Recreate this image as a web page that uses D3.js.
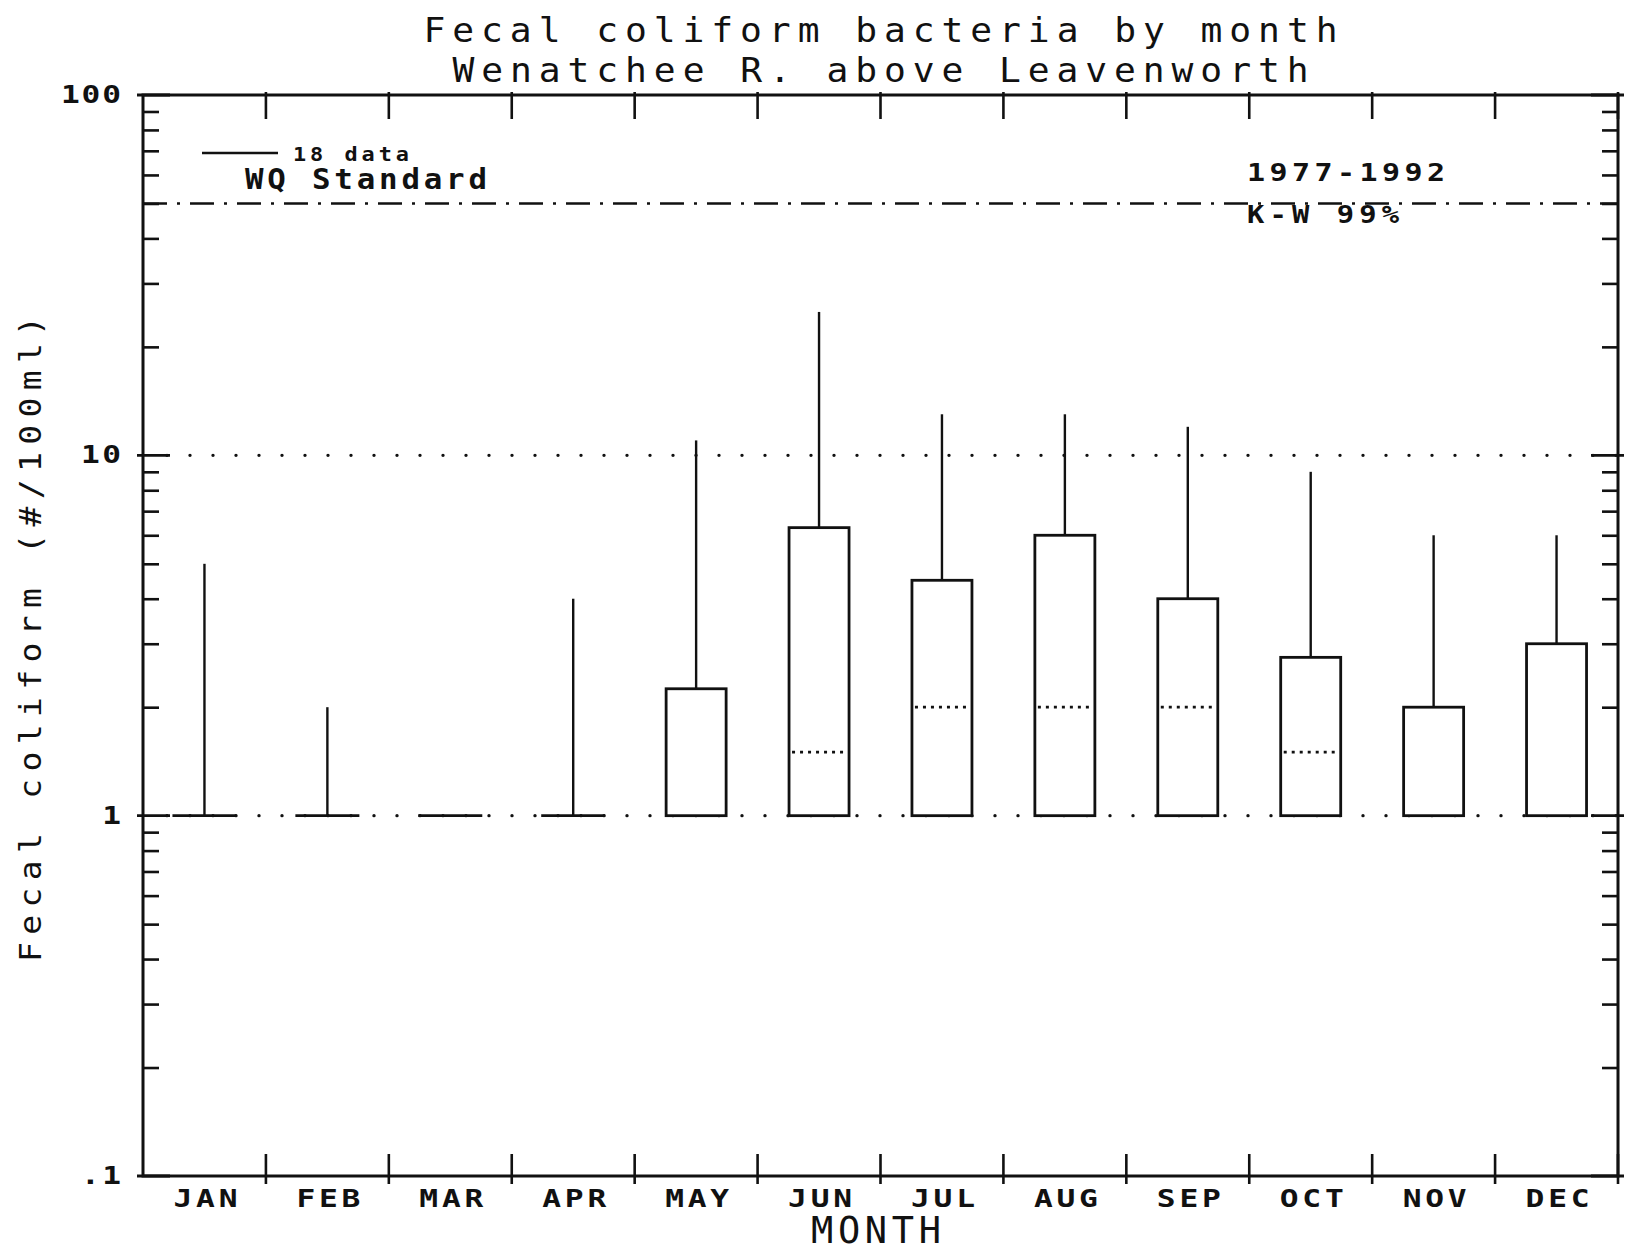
<!DOCTYPE html>
<html>
<head>
<meta charset="utf-8">
<script src="https://cdn.jsdelivr.net/npm/d3@7"></script>
<style>
  html, body { margin: 0; padding: 0; background: #fff; }
  svg { display: block; }
  text { fill: #111; font-family: "DejaVu Sans Mono", "Liberation Mono", monospace; }
</style>
</head>
<body>
<svg id="chart" width="1626" height="1253"></svg>
<script>
// Monthly fecal coliform summary, 1977-1992 (#/100ml)
const months = ["JAN", "FEB", "MAR", "APR", "MAY", "JUN", "JUL", "AUG", "SEP", "OCT", "NOV", "DEC"];
const lowerQuartile = [1, 1, 1, 1, 1, 1, 1, 1, 1, 1, 1, 1];
const medians       = [1, 1, 1, 1, 1, 1.5, 2, 2, 2, 1.5, 1, 1];
const upperQuartile = [1, 1, 1, 1, 2.25, 6.3, 4.5, 6, 4, 2.75, 2, 3];
const maxima        = [5, 2, 1, 4, 11, 25, 13, 13, 12, 9, 6, 6];

const yTickValues = [0.1, 1, 10, 100];
const yTickLabels = [".1", "1", "10", "100"];
const referenceLines = [1, 10];
const wqStandard = 50;

const titleLines = ["Fecal coliform bacteria by month", "Wenatchee R. above Leavenworth"];
const yTitle = "Fecal coliform (#/100ml)";
const xTitle = "MONTH";
const legendCount = "18 data";
const legendLabel = "WQ Standard";
const periodNote = "1977-1992";
const testNote = "K-W 99%";

const svg = d3.select("#chart");
const plotLeft = 143, plotRight = 1618, plotTop = 95, plotBottom = 1176;

const x = d3.scaleBand().domain(months).range([plotLeft, plotRight]).padding(0);
const y = d3.scaleLog().domain([0.1, 100]).range([plotBottom, plotTop]);

const ink = "#111";

// plotter-style text: glyphs widened by sx, total advance fixed by len
function plotText(parent, str, px, py, opts) {
  const sx = opts.sx || 1;
  const t = parent.append("text")
    .attr("transform", `translate(${px},${py}) scale(${sx},1)`)
    .attr("font-size", opts.size)
    .attr("font-weight", opts.bold ? "bold" : "normal")
    .attr("text-anchor", opts.anchor || "start")
    .text(str);
  if (opts.len) t.attr("textLength", opts.len / sx).attr("lengthAdjust", "spacing");
  return t;
}

// dotted reference lines at 1 and 10
svg.append("g").selectAll("line").data(referenceLines).join("line")
  .attr("x1", plotLeft + 24).attr("x2", plotRight)
  .attr("y1", d => y(d)).attr("y2", d => y(d))
  .attr("stroke", ink).attr("stroke-width", 3.4)
  .attr("stroke-linecap", "round")
  .attr("stroke-dasharray", "0 23");

// water-quality standard, dash-dot
svg.append("line")
  .attr("x1", plotLeft).attr("x2", plotRight)
  .attr("y1", y(wqStandard)).attr("y2", y(wqStandard))
  .attr("stroke", ink).attr("stroke-width", 2.6)
  .attr("stroke-dasharray", "24 10 3 10");

// boxes and whiskers
const bw = 60;
const boxes = svg.append("g");
months.forEach((m, i) => {
  const cx = x(m) + x.bandwidth() / 2;
  const g = boxes.append("g");
  if (maxima[i] > upperQuartile[i]) {
    g.append("line")
      .attr("x1", cx).attr("x2", cx)
      .attr("y1", y(upperQuartile[i])).attr("y2", y(maxima[i]))
      .attr("stroke", ink).attr("stroke-width", 2.4);
  }
  if (upperQuartile[i] > lowerQuartile[i]) {
    g.append("rect")
      .attr("x", cx - bw / 2).attr("width", bw)
      .attr("y", y(upperQuartile[i]))
      .attr("height", y(lowerQuartile[i]) - y(upperQuartile[i]))
      .attr("fill", "#fff").attr("stroke", ink).attr("stroke-width", 2.8);
  } else {
    g.append("line")
      .attr("x1", cx - bw / 2 - 2).attr("x2", cx + bw / 2 + 2)
      .attr("y1", y(lowerQuartile[i])).attr("y2", y(lowerQuartile[i]))
      .attr("stroke", ink).attr("stroke-width", 2.8);
  }
  if (medians[i] > lowerQuartile[i]) {
    g.append("line")
      .attr("x1", cx - bw / 2 + 3).attr("x2", cx + bw / 2 - 2)
      .attr("y1", y(medians[i])).attr("y2", y(medians[i]))
      .attr("stroke", ink).attr("stroke-width", 2.8)
      .attr("stroke-dasharray", "3 5");
  }
});

// frame
svg.append("rect")
  .attr("x", plotLeft).attr("y", plotTop)
  .attr("width", plotRight - plotLeft).attr("height", plotBottom - plotTop)
  .attr("fill", "none").attr("stroke", ink).attr("stroke-width", 3);

// log ticks on left and right edges
const allTicks = y.ticks();
const isMajor = v => Math.abs(Math.log10(v) - Math.round(Math.log10(v))) < 1e-9;
const minor = allTicks.filter(v => !isMajor(v));
const major = allTicks.filter(isMajor);

const leftAxis = svg.append("g").attr("transform", `translate(${plotLeft},0)`)
  .call(d3.axisRight(y).tickValues(minor).tickSize(16).tickFormat(""));
const rightAxis = svg.append("g").attr("transform", `translate(${plotRight},0)`)
  .call(d3.axisLeft(y).tickValues(minor).tickSize(16).tickFormat(""));
[leftAxis, rightAxis].forEach(a => {
  a.select(".domain").remove();
  a.selectAll(".tick line").attr("stroke", ink).attr("stroke-width", 2.6);
});

svg.append("g").selectAll("line").data(major).join("line")
  .attr("x1", plotLeft - 6).attr("x2", plotLeft + 27)
  .attr("y1", d => y(d)).attr("y2", d => y(d))
  .attr("stroke", ink).attr("stroke-width", 2.8);
svg.append("g").selectAll("line").data(major).join("line")
  .attr("x1", plotRight - 27).attr("x2", plotRight + 6)
  .attr("y1", d => y(d)).attr("y2", d => y(d))
  .attr("stroke", ink).attr("stroke-width", 2.8);

// y tick labels
const yLabels = svg.append("g");
yTickValues.forEach((v, i) => {
  plotText(yLabels, yTickLabels[i], 121, y(v) + 8,
    { size: 24, bold: true, sx: 1.3, anchor: "end", len: yTickLabels[i].length * 20 });
});

// month boundary ticks on top and bottom
const bounds = months.map(m => x(m)).concat([plotRight]).slice(1);
svg.append("g").selectAll("line").data(bounds).join("line")
  .attr("x1", d => d).attr("x2", d => d)
  .attr("y1", plotTop - 3).attr("y2", plotTop + 24)
  .attr("stroke", ink).attr("stroke-width", 2.6);
svg.append("g").selectAll("line").data(bounds).join("line")
  .attr("x1", d => d).attr("x2", d => d)
  .attr("y1", plotBottom - 22).attr("y2", plotBottom + 8)
  .attr("stroke", ink).attr("stroke-width", 2.6);

// month labels
const monthLabels = svg.append("g");
months.forEach(m => {
  plotText(monthLabels, m, x(m) + x.bandwidth() / 2 + 1, 1207,
    { size: 25, bold: true, sx: 1.25, anchor: "middle", len: 64 });
});

// titles
titleLines.forEach((line, i) => {
  plotText(svg, line, (plotLeft + plotRight) / 2, 42 + i * 40,
    { size: 33, sx: 1.1, anchor: "middle", len: i === 0 ? 914 : 856 });
});

svg.append("text")
  .attr("transform", `translate(41,${(319 + 959) / 2}) rotate(-90) scale(1.1,1)`)
  .attr("text-anchor", "middle")
  .attr("font-size", 30)
  .attr("textLength", 646 / 1.1).attr("lengthAdjust", "spacing")
  .text(yTitle);

plotText(svg, xTitle, 876, 1243, { size: 37, anchor: "middle", len: 130 });

// legend
svg.append("line")
  .attr("x1", 202).attr("x2", 278).attr("y1", 153).attr("y2", 153)
  .attr("stroke", ink).attr("stroke-width", 2.6);
plotText(svg, legendCount, 293, 161, { size: 19, bold: true, sx: 1.15, len: 116 });
plotText(svg, legendLabel, 245, 189, { size: 28, bold: true, sx: 1.1, len: 242 });

// period and test annotations
plotText(svg, periodNote, 1247, 181, { size: 25, bold: true, sx: 1.2, len: 198 });
plotText(svg, testNote, 1247, 223, { size: 24, bold: true, sx: 1.2, len: 152 });
</script>
</body>
</html>
